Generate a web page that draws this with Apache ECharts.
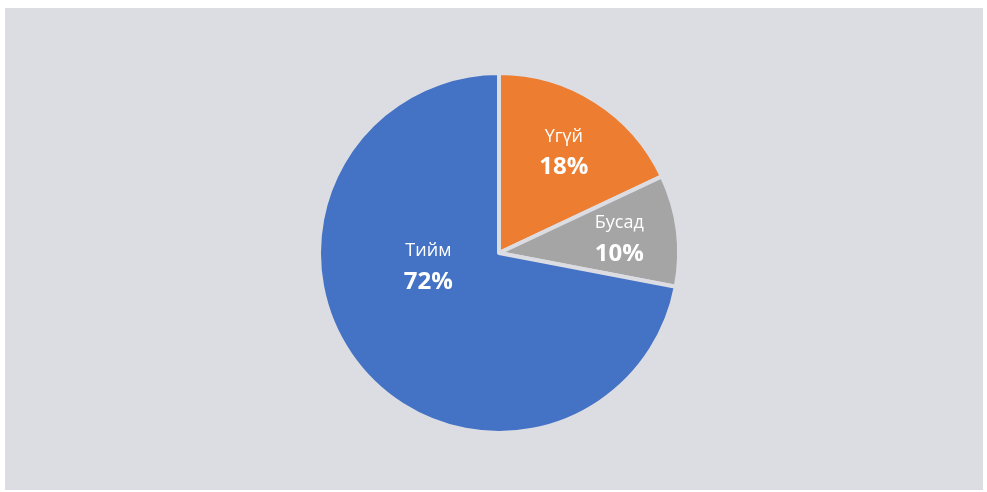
<!DOCTYPE html>
<html>
<head>
<meta charset="utf-8">
<script src="https://cdn.jsdelivr.net/npm/echarts@6/dist/echarts.min.js"></script>
<style>
  html, body { margin: 0; padding: 0; background: #ffffff; }
  #main { position: absolute; left: 5px; top: 8px; width: 978px; height: 482px; background: #dcdde3; }
</style>
</head>
<body>
<div id="main"></div>
<script>
var names = ['Үгүй', 'Бусад', 'Тийм'];
var values = [18, 10, 72];
var colors = ['#ed7d31', '#a5a5a5', '#4472c4'];
// label nudges (px) to match where the original places them
var labelOffsets = [[15, -22], [28, -2], [1, -45]];

var myChart = echarts.init(document.getElementById('main'));

var data = [];
for (var i = 0; i < names.length; i++) {
    data.push({
        name: names[i],
        value: values[i],
        itemStyle: { color: colors[i] },
        label: { offset: labelOffsets[i] }
    });
}

var option = {
    backgroundColor: 'transparent',
    animation: false,
    series: [{
        type: 'pie',
        center: [494, 245],
        radius: [0, 180],
        startAngle: 90,
        clockwise: true,
        itemStyle: {
            borderColor: '#dcdde3',
            borderWidth: 4
        },
        label: {
            show: true,
            position: 'inside',
            formatter: function (p) {
                return '{n|' + p.name + '}\n{p|' + p.value + '%}';
            },
            rich: {
                n: { fontFamily: 'Open Sans', fontSize: 18, color: '#ffffff', lineHeight: 30 },
                p: { fontFamily: 'Open Sans', fontSize: 24, fontWeight: 'bold', color: '#ffffff', lineHeight: 32 }
            }
        },
        labelLine: { show: false },
        emphasis: { disabled: true },
        data: data
    }]
};

myChart.setOption(option);
</script>
</body>
</html>
